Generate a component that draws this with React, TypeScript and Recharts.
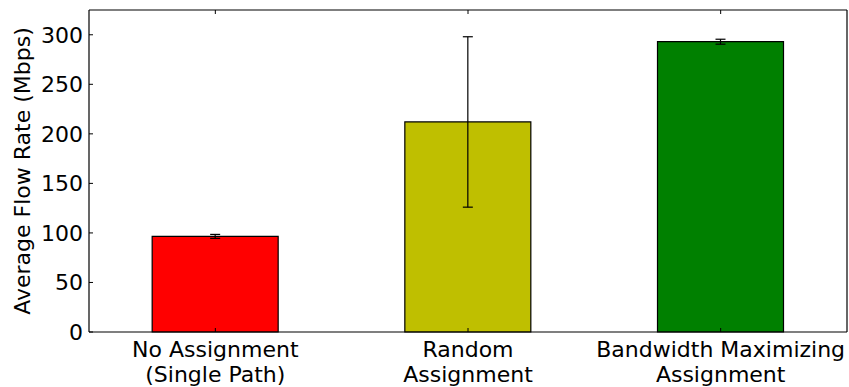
import React from 'react';
import { BarChart, Bar, XAxis, YAxis, ErrorBar, Cell, Label } from 'recharts';

// Average flow rate per path-assignment strategy, with error spans
const categories = ['No Assignment\n(Single Path)', 'Random\nAssignment', 'Bandwidth Maximizing\nAssignment'];
const rates = [96.5, 212, 293];
const errors = [2, 86, 2.5];
const colors = ['#ff0000', '#bfbf00', '#008000'];
const yTicks = [0, 50, 100, 150, 200, 250, 300];

const data = categories.map((name, i) => ({ name, rate: rates[i], err: errors[i] }));

const FONT = '"DejaVu Sans", sans-serif';
const FS = 22;

const CategoryTick = (props: any) => {
  const { x, y, payload } = props;
  const lines = String(payload.value).split('\n');
  return (
    <text x={x} y={y} textAnchor="middle" fill="#000" fontSize={FS} fontFamily={FONT}>
      {lines.map((line, i) => (
        <tspan key={i} x={x} dy={i === 0 ? 25 : 25}>
          {line}
        </tspan>
      ))}
    </text>
  );
};

const Empty = () => <g />;

export default function App() {
  return (
    <div style={{ position: 'absolute', left: 0, top: 0, background: '#fff' }}>
      <BarChart
        width={849}
        height={387}
        data={data}
        margin={{ top: 9, right: 1, left: 0, bottom: 0 }}
        barCategoryGap="25%"
      >
        <XAxis
          dataKey="name"
          xAxisId="bottom"
          height={55}
          tickSize={-4}
          tickMargin={4}
          tick={<CategoryTick />}
          axisLine={{ stroke: '#000', strokeWidth: 1.2 }}
          tickLine={{ stroke: '#000' }}
          interval={0}
        />
        <XAxis
          dataKey="name"
          xAxisId="top"
          orientation="top"
          height={1}
          tickSize={-4}
          tick={<Empty />}
          axisLine={{ stroke: '#000', strokeWidth: 1.2 }}
          tickLine={{ stroke: '#000' }}
          interval={0}
        />
        <YAxis
          yAxisId="left"
          width={89}
          domain={[0, 325]}
          ticks={yTicks}
          tickSize={-4}
          tickMargin={10}
          tick={{ fill: '#000', fontSize: FS, fontFamily: FONT }}
          axisLine={{ stroke: '#000', strokeWidth: 1.2 }}
          tickLine={{ stroke: '#000' }}
          interval={0}
        >
          <Label
            value="Average Flow Rate (Mbps)"
            angle={-90}
            position="insideLeft"
            offset={0}
            dx={22}
            style={{ fill: '#000', fontSize: FS, fontFamily: FONT, textAnchor: 'middle' }}
          />
        </YAxis>
        <YAxis
          yAxisId="right"
          orientation="right"
          width={1}
          domain={[0, 325]}
          ticks={yTicks}
          tickSize={-4}
          tick={<Empty />}
          axisLine={{ stroke: '#000', strokeWidth: 1.2 }}
          tickLine={{ stroke: '#000' }}
          interval={0}
        />
        <Bar
          dataKey="rate"
          xAxisId="bottom"
          yAxisId="left"
          stroke="#000"
          strokeWidth={1.2}
          isAnimationActive={false}
        >
          {data.map((d, i) => (
            <Cell key={d.name} fill={colors[i]} />
          ))}
          <ErrorBar dataKey="err" width={5} stroke="#000" strokeWidth={1.2} isAnimationActive={false} />
        </Bar>
      </BarChart>
    </div>
  );
}
